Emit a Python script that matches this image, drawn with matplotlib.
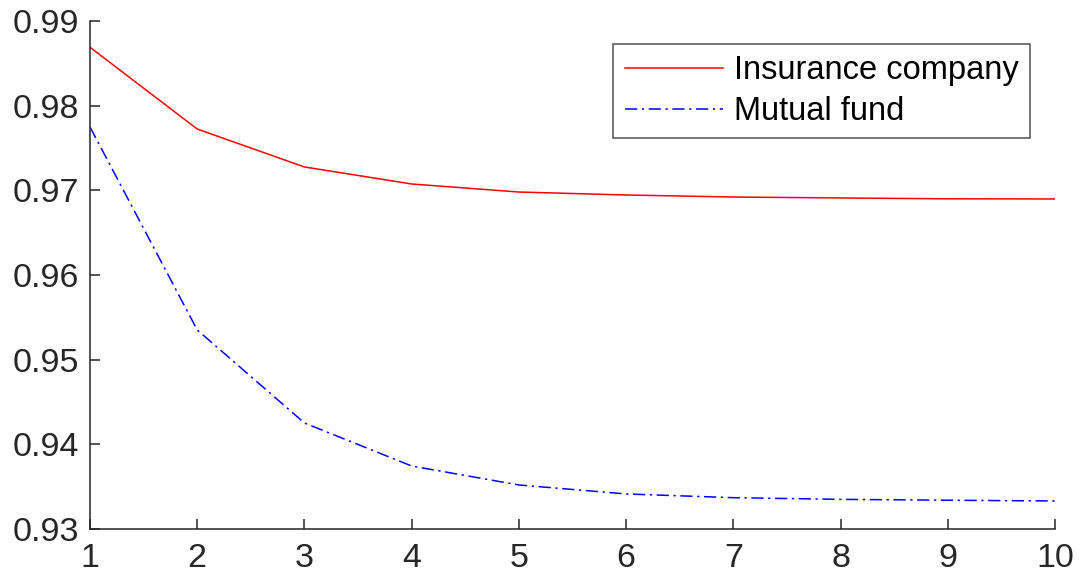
import matplotlib
matplotlib.use("Agg")
import matplotlib.pyplot as plt

x = [1, 2, 3, 4, 5, 6, 7, 8, 9, 10]
insurance = [0.9869, 0.97724, 0.97276, 0.97075, 0.9698, 0.96945, 0.96921, 0.9691, 0.96900, 0.96898]
mutual = [0.97748, 0.95351, 0.94252, 0.93744, 0.9352, 0.93414, 0.93370, 0.93350, 0.93340, 0.93331]
xticks = [1, 2, 3, 4, 5, 6, 7, 8, 9, 10]
yticks = [0.93, 0.94, 0.95, 0.96, 0.97, 0.98, 0.99]

plt.rcParams['font.family'] = ['Liberation Sans', 'DejaVu Sans']
fig = plt.figure(figsize=(10.79, 5.84), dpi=100)
ax = fig.add_axes([90/1079, 55/584, (1055-90)/1079, (529-21)/584])

ax.plot(x, insurance, color='#ff0000', lw=1.1, label='Insurance company')
ax.plot(x, mutual, color='#0000ff', lw=1.1, linestyle=(0, (8, 3, 1.5, 3)), label='Mutual fund')

ax.set_xlim(1, 10)
ax.set_ylim(0.93, 0.99)
ax.set_xticks(xticks)
ax.set_yticks(yticks)
ax.set_yticklabels([f"{v:.2f}" for v in yticks])
for s in ['top', 'right']:
    ax.spines[s].set_visible(False)
for s in ['left', 'bottom']:
    ax.spines[s].set_color('#262626')
    ax.spines[s].set_linewidth(1.1)
ax.tick_params(direction='in', length=7, width=1.1, colors='#262626', labelsize=24.5)
ax.tick_params(axis='x', pad=10)
ax.tick_params(axis='y', pad=8)

leg = ax.legend(loc='upper right', bbox_to_anchor=(0.9745, 0.955), fontsize=23.5, frameon=True,
                fancybox=False, edgecolor='#262626', handlelength=3.0, handletextpad=0.35,
                borderpad=0.35, labelspacing=0.3, borderaxespad=0)
leg.get_frame().set_linewidth(1.1)

fig.savefig('out.png', dpi=100)
